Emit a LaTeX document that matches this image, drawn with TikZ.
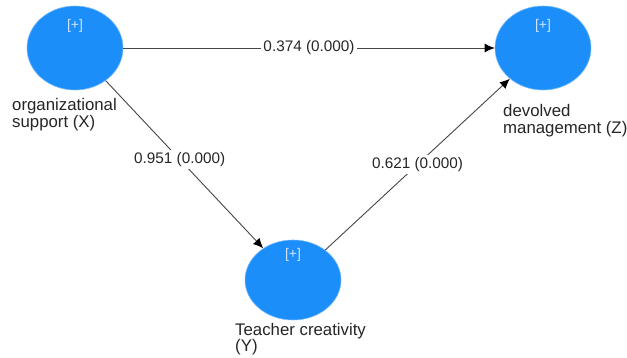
\documentclass[tikz,border=0pt]{standalone}
\usepackage{fontspec}
\setmainfont{Liberation Sans}
\usetikzlibrary{shapes.geometric,arrows.meta}
\definecolor{lvblue}{RGB}{28,142,250}
\definecolor{plusc}{RGB}{205,228,255}
\definecolor{edgec}{RGB}{70,70,70}
\tikzset{
  latent/.style={ellipse, fill=lvblue, draw=lvblue!60!white, line width=0.6pt, minimum width=96pt, minimum height=84pt, inner sep=0pt},
  plus/.style={text=plusc, font=\fontsize{14}{16}\selectfont, inner sep=0pt},
  lvname/.style={align=left, anchor=north west, inner sep=0pt, font=\fontsize{16.8}{17.5}\selectfont, text=black!85},
  path/.style={draw=edgec, line width=0.9pt, -{Latex[length=10pt,width=9pt,fill=black,color=black]}},
  coef/.style={fill=white, inner sep=2pt, font=\fontsize{15.3}{18}\selectfont, text=black!85}
}
\begin{document}
\begin{tikzpicture}[x=1pt,y=-1pt]
\path[use as bounding box, fill=white] (0,0) rectangle (627,358);
\node[latent] (X) at (75,48) {};
\node[latent] (Z) at (543,48) {};
\node[latent, minimum height=80pt] (Y) at (293,280) {};
\node[plus] (px) at (75,26) {[+]};
\node[plus] (pz) at (543,26) {[+]};
\node[plus] (py) at (293,255) {[+]};
\node[lvname] (lx) at (12,98) {organizational\\support (X)};
\node[lvname] (lz) at (503,104) {devolved\\management (Z)};
\node[lvname, font=\fontsize{16.8}{16.2}\selectfont] (ly) at (235,323) {Teacher creativity\\(Y)};
\draw[path] (X) -- node[coef, pos=0.5] {0.374 (0.000)} (Z);
\draw[path] (X) -- node[coef, pos=0.47] {0.951 (0.000)} (Y);
\draw[path] (Y) -- node[coef, pos=0.5] {0.621 (0.000)} (Z);
\end{tikzpicture}
\end{document}
